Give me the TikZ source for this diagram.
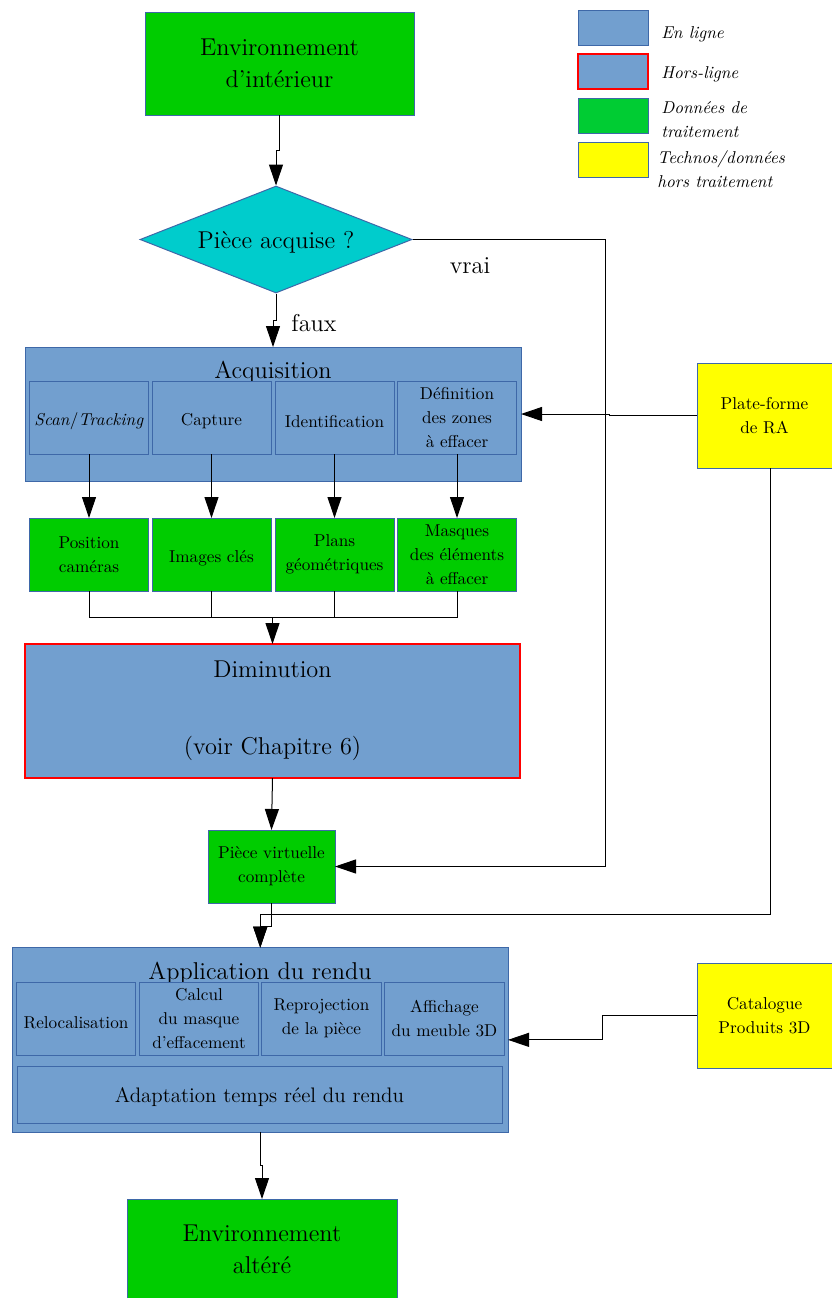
\documentclass[tikz,border=0pt]{standalone}
\usetikzlibrary{shapes.geometric,arrows.meta}
\definecolor{bleu}{RGB}{114,159,207}
\definecolor{bord}{RGB}{62,104,168}
\definecolor{vert}{RGB}{0,204,0}
\definecolor{vertleg}{RGB}{0,204,51}
\definecolor{cyandia}{RGB}{0,204,204}
\definecolor{jaune}{RGB}{255,255,0}
\definecolor{rouge}{RGB}{255,0,0}
\begin{document}
\begin{tikzpicture}[x=0.6pt,y=-0.6pt,
  box/.style={rectangle, draw=bord, line width=0.6pt, inner sep=0pt, outer sep=0pt, align=center},
  wh/.style 2 args={minimum width=0.6pt*#1, minimum height=0.6pt*#2},
  lab/.style={font=\fontsize{14.6}{19.2}\selectfont, align=center},
  big/.style={lab, execute at begin node={\rule{0pt}{13.6pt}}},
  sm/.style={font=\fontsize{10.3}{14.4}\selectfont, align=center, execute at begin node={\rule{0pt}{11.8pt}}},
  mid/.style={font=\fontsize{12.6}{14.4}\selectfont, execute at begin node={\rule{0pt}{11.5pt}}},
  legt/.style={font=\fontsize{10.3}{14.4}\selectfont\itshape, anchor=west, align=left, inner sep=0pt},
  arr/.style={-{Triangle[length=12.6pt,width=8.4pt]}, line width=0.6pt},
  ln/.style={line width=0.6pt}]
\useasboundingbox (0,0) rectangle (832,1298);

% legend
\node[box, fill=bleu, wh={70}{35}] (l1) at (613,27.5) {};
\node[box, draw=rouge, line width=1.2pt, fill=bleu, wh={70}{35}] (l2) at (613,71.5) {};
\node[box, fill=vertleg, wh={70}{35}] (l3) at (613,115.5) {};
\node[box, fill=jaune, wh={70}{35}] (l4) at (613,159.5) {};
\node[legt] (t1) at (661,34) {En ligne};
\node[legt] (t2) at (661,74) {Hors-ligne};
\node[legt] (t3) at (661,120) {Données de\\traitement};
\node[legt] (t4) at (657,169.5) {Technos/données\\hors traitement};

% top
\node[box, fill=vert, wh={269}{103}, big] (env) at (279.5,63.5) {Environnement\\d'intérieur};
\node[diamond, draw=bord, line width=0.6pt, fill=cyandia, aspect=2.54, inner sep=0pt,
      minimum width=163.2pt, minimum height=64.2pt, big] (dia) at (276,239.5) {Pièce acquise ?};

% acquisition
\node[box, fill=bleu, wh={496}{134}] (acq) at (273,414) {};
\node[lab] (acqt) at (273,372) {Acquisition};
\node[box, fill=bleu, wh={119}{73}, sm] (a1) at (89,417.5) {\textit{Scan}/\textit{Tracking}};
\node[box, fill=bleu, wh={119}{73}, sm] (a2) at (211.5,417.5) {Capture};
\node[box, fill=bleu, wh={119}{73}, sm] (a3) at (334.5,417.5) {Identification};
\node[box, fill=bleu, wh={119}{73}, sm] (a4) at (457,417.5) {Définition\\des zones\\à effacer};

\node[box, fill=vert, wh={119}{73}, sm] (g1) at (89,554.5) {Position\\caméras};
\node[box, fill=vert, wh={119}{73}, sm] (g2) at (211.5,554.5) {Images clés};
\node[box, fill=vert, wh={119}{73}, sm] (g3) at (334.5,554.5) {Plans\\géométriques};
\node[box, fill=vert, wh={119}{73}, sm] (g4) at (457,554.5) {Masques\\des éléments\\à effacer};

\node[box, draw=rouge, line width=1.2pt, fill=bleu, wh={495}{134}, big] (dim) at (272.5,711) {Diminution\\[27pt](voir Chapitre 6)};

\node[box, fill=vert, wh={127}{73}, sm] (pv) at (271.5,866.5) {Pièce virtuelle\\complète};

% application
\node[box, fill=bleu, wh={495.5}{184.3}] (app) at (260.25,1039.85) {};
\node[lab] (appt) at (260,973) {Application du rendu};
\node[box, fill=bleu, wh={119.5}{73}, sm] (r1) at (76,1018.5) {Relocalisation};
\node[box, fill=bleu, wh={119.5}{73}, sm] (r2) at (199,1018.5) {Calcul\\du masque\\d'effacement};
\node[box, fill=bleu, wh={119.5}{73}, sm] (r3) at (321.5,1018.5) {Reprojection\\de la pièce};
\node[box, fill=bleu, wh={119.5}{73}, sm] (r4) at (444.5,1018.5) {Affichage\\du meuble 3D};
\node[box, fill=bleu, wh={485}{56.3}, mid] (ad) at (259.5,1095) {Adaptation temps réel du rendu};

\node[box, fill=vert, wh={270}{101}, big] (fin) at (262,1249.5) {Environnement\\altéré};

% right side
\node[box, fill=jaune, wh={135}{105}, sm] (pf) at (764.5,415.5) {Plate-forme\\de RA};
\node[box, fill=jaune, wh={135}{105}, sm] (cat) at (764.5,1015.5) {Catalogue\\Produits 3D};

% labels
\node[lab] (vrai) at (470,266) {vrai};
\node[lab] (faux) at (314,323) {faux};

% connectors
\draw[arr] (env.south) -- ++(0,35) -| (dia.north);
\draw[arr] (dia.south) -- ++(0,27) -| (acq.north);
\coordinate (vx) at (605,0);
\draw[arr] (dia.east) -- (dia.east -| vx) |- (pv.east);
\draw[arr] (pf.west) -- ++(-88,0) |- (acq.east);
\foreach \i in {1,2,3,4} { \draw[arr] (a\i.south) -- (g\i.north); }
\coordinate (j) at (272.5,617);
\foreach \i in {1,2,3,4} { \draw[ln] (g\i.south) |- (j); }
\draw[arr] (j) -- (dim.north);
\draw[arr] (dim.south) -- (pv.north);
\coordinate (pfb) at (770,468);
\coordinate (jy) at (0,914);
\draw[arr] (pfb) |- (app.north |- jy) -- (app.north);
\draw[arr] (pv.south) -- ++(0,23) -| (app.north);
\draw[arr] (cat.west) -- ++(-95,0) |- (app.east);
\draw[arr] (app.south) -- ++(0,33) -| (fin.north);
\end{tikzpicture}
\end{document}
